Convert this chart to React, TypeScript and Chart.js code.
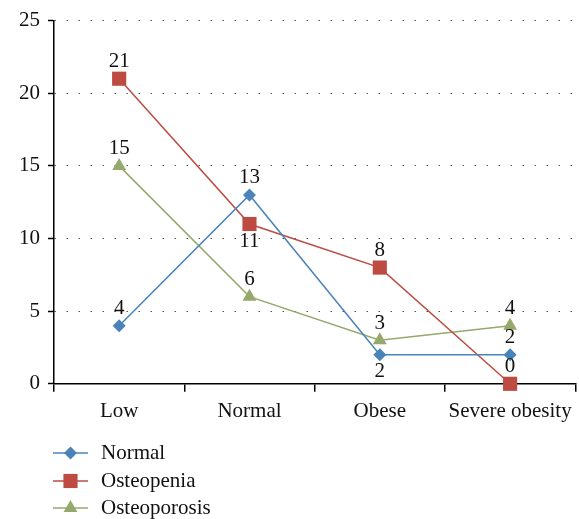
import { useEffect, useRef } from 'react';
import { Chart, registerables } from 'chart.js';

Chart.register(...registerables);

const categories = ['Low', 'Normal', 'Obese', 'Severe obesity'];
const normalValues = [4, 13, 2, 2];
const osteopeniaValues = [21, 11, 8, 0];
const osteoporosisValues = [15, 6, 3, 4];
const yTickValues = [0, 5, 10, 15, 20, 25];
const seriesNames = ['Normal', 'Osteopenia', 'Osteoporosis'];

const FONT = "'Liberation Serif', 'DejaVu Serif', serif";
const FS = 21;
const COLORS = ['#4a83b7', '#bd4b41', '#96a86c'];
const LABEL_POS = [
  ['above', 'above', 'below', 'above'],
  ['above', 'below', 'above', 'above'],
  ['above', 'above', 'above', 'above'],
];

function drawMarker(ctx: CanvasRenderingContext2D, style: string, x: number, y: number, r: number, color: string) {
  ctx.save();
  ctx.fillStyle = color;
  ctx.beginPath();
  if (style === 'rectRot') {
    ctx.moveTo(x, y - r);
    ctx.lineTo(x + r, y);
    ctx.lineTo(x, y + r);
    ctx.lineTo(x - r, y);
    ctx.closePath();
  } else if (style === 'rect') {
    const s = r * Math.SQRT1_2;
    ctx.rect(x - s, y - s, 2 * s, 2 * s);
  } else {
    const a = Math.PI / 2;
    ctx.moveTo(x + Math.cos(-a) * r, y + Math.sin(-a) * r);
    ctx.lineTo(x + Math.cos(-a + 2.0944) * r, y + Math.sin(-a + 2.0944) * r);
    ctx.lineTo(x + Math.cos(-a + 4.1888) * r, y + Math.sin(-a + 4.1888) * r);
    ctx.closePath();
  }
  ctx.fill();
  ctx.restore();
}

const labelPlugin = {
  id: 'valueLabels',
  afterDatasetsDraw(chart: any) {
    const ctx = chart.ctx;
    ctx.save();
    ctx.font = `${FS}px ${FONT}`;
    ctx.fillStyle = '#111';
    ctx.textAlign = 'center';
    ctx.textBaseline = 'middle';
    chart.data.datasets.forEach((ds: any, di: number) => {
      const meta = chart.getDatasetMeta(di);
      meta.data.forEach((pt: any, i: number) => {
        const pos = LABEL_POS[di][i];
        const dy = pos === 'above' ? -17 : 17;
        ctx.fillText(String(ds.data[i]), pt.x, pt.y + dy);
      });
    });
    ctx.restore();
  },
};

const legendPlugin = {
  id: 'customLegend',
  afterDraw(chart: any) {
    const ctx = chart.ctx;
    const rows = [453, 481, 508];
    ctx.save();
    ctx.font = `${FS}px ${FONT}`;
    ctx.textBaseline = 'middle';
    ctx.textAlign = 'left';
    chart.data.datasets.forEach((ds: any, di: number) => {
      const y = rows[di];
      ctx.strokeStyle = ds.borderColor;
      ctx.lineWidth = 1.5;
      ctx.beginPath();
      ctx.moveTo(53, y);
      ctx.lineTo(88, y);
      ctx.stroke();
      drawMarker(ctx, ds.pointStyle, 70.5, y, ds.pointRadius, ds.backgroundColor);
      ctx.fillStyle = '#111';
      ctx.fillText(ds.label, 101, y);
    });
    ctx.restore();
  },
};

export default function App() {
  const ref = useRef<HTMLCanvasElement>(null);
  useEffect(() => {
    if (!ref.current) return;
    const mk = (i: number, data: number[], style: string, r: number) => ({
      label: seriesNames[i],
      data,
      borderColor: COLORS[i],
      backgroundColor: COLORS[i],
      pointBackgroundColor: COLORS[i],
      pointBorderColor: COLORS[i],
      pointBorderWidth: 0,
      borderWidth: 1.5,
      pointStyle: style,
      pointRadius: r,
      pointHoverRadius: r,
      tension: 0,
      clip: false as any,
    });
    const chart = new Chart(ref.current, {
      type: 'line',
      data: {
        labels: categories,
        datasets: [
          mk(0, normalValues, 'rectRot', 6.5),
          mk(1, osteopeniaValues, 'rect', 10),
          mk(2, osteoporosisValues, 'triangle', 8),
        ],
      },
      options: {
        responsive: false,
        animation: false,
        layout: { autoPadding: false, padding: { left: 11, right: 3, top: 20, bottom: 88 } } as any,
        plugins: { legend: { display: false }, tooltip: { enabled: false } },
        scales: {
          x: {
            type: 'category',
            offset: true,
            grid: {
              offset: true,
              drawOnChartArea: false,
              drawTicks: true,
              tickLength: 8,
              tickColor: '#000',
              lineWidth: 1.5,
            },
            border: { color: '#000', width: 1.5 },
            ticks: { font: { family: FONT, size: FS }, color: '#111', padding: 7, maxRotation: 0 },
          },
          y: {
            min: 0,
            max: 25,
            afterBuildTicks: (scale: any) => {
              scale.ticks = yTickValues.map((v) => ({ value: v }));
            },
            grid: {
              color: '#555',
              lineWidth: 1,
              tickBorderDash: [],
              tickColor: '#000',
              tickLength: 6,
              tickWidth: 1.5,
            } as any,
            border: { color: '#000', width: 1.5, dash: [1.5, 10.5] } as any,
            ticks: { font: { family: FONT, size: FS }, color: '#111', padding: 8 },
          },
        },
      },
      plugins: [labelPlugin, legendPlugin],
    });
    return () => chart.destroy();
  }, []);
  return (
    <div style={{ position: 'absolute', left: 0, top: 0, width: 579, height: 519, background: '#fff' }}>
      <canvas ref={ref} width={579} height={519} />
    </div>
  );
}
